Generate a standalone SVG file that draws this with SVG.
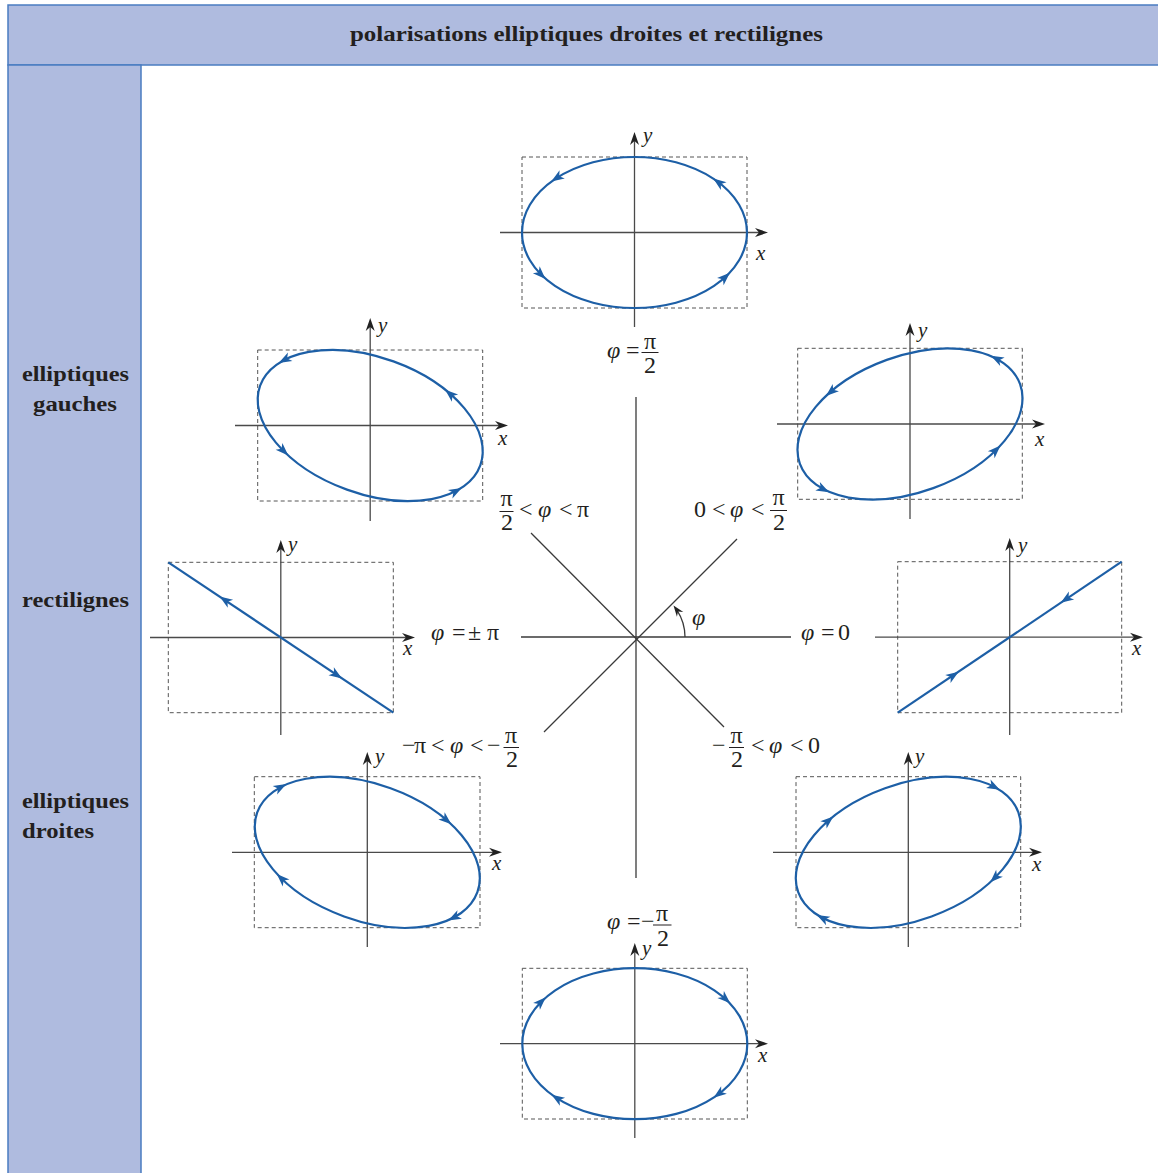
<svg xmlns="http://www.w3.org/2000/svg" xmlns:xlink="http://www.w3.org/1999/xlink" width="1158" height="1173" viewBox="0 0 1158 1173">
<style>
.band{fill:#afbbdf;stroke:#4a7cc1;stroke-width:1.5}
.hd{font-family:"Liberation Serif","Times New Roman",serif;font-weight:bold;font-size:21.5px;fill:#231f20}
.m{font-family:"Liberation Serif","Times New Roman",serif;font-size:24px;fill:#231f20}
.i{font-style:italic}
.ax{font-family:"Liberation Serif","Times New Roman",serif;font-style:italic;font-size:21px;fill:#231f20}
.box{fill:none;stroke:#555;stroke-width:1;stroke-dasharray:4 3}
.axis{stroke:#4a4a4a;stroke-width:1.3;fill:none}
.ell{fill:none;stroke:#1d5fa6;stroke-width:2.2}
.cl{stroke:#3a3a3a;stroke-width:1.3;fill:none}
.fr{stroke:#231f20;stroke-width:1}
</style>
<defs>
<path id="ah" d="M6,0 L-7,-4.8 L-3.5,0 L-7,4.8 Z" fill="#1d5fa6"/>
<path id="axh" d="M0,0 L-13,-4.5 L-9,0 L-13,4.5 Z" fill="#222"/>
<path id="sah" d="M0,0 L-11,-4 L-7.5,0 L-11,4 Z" fill="#222"/>
</defs>
<rect width="1158" height="1173" fill="#ffffff"/>

<g id="header">
<rect class="band" x="8" y="5" width="1160" height="60"/>
<text class="hd" x="586.5" y="41" text-anchor="middle" textLength="473" lengthAdjust="spacingAndGlyphs">polarisations elliptiques droites et rectilignes</text>
</g>
<g id="left-column">
<rect class="band" x="8" y="65" width="133" height="1120"/>
<text class="hd" x="22" y="381" textLength="107" lengthAdjust="spacingAndGlyphs">elliptiques</text>
<text class="hd" x="33" y="411" textLength="84" lengthAdjust="spacingAndGlyphs">gauches</text>
<text class="hd" x="22" y="607" textLength="107" lengthAdjust="spacingAndGlyphs">rectilignes</text>
<text class="hd" x="22" y="808" textLength="107" lengthAdjust="spacingAndGlyphs">elliptiques</text>
<text class="hd" x="22" y="838" textLength="72" lengthAdjust="spacingAndGlyphs">droites</text>
</g>

<g id="connectors">
<line class="cl" x1="636" y1="397" x2="636" y2="878"/>
<line class="cl" x1="521" y1="637" x2="791" y2="637"/>
<line class="cl" x1="531" y1="533" x2="724" y2="727"/>
<line class="cl" x1="737" y1="539" x2="544" y2="732"/>
<path class="cl" d="M685,637 A49,49 0 0 0 677.1,610.3"/>
<use xlink:href="#sah" href="#sah" transform="translate(673.5,605.5) rotate(233)"/>
</g>

<g id="center-labels">
<text class="m i" x="692" y="625">φ</text>
<!-- phi = ± pi -->
<text class="m i" x="431" y="640">φ</text>
<text class="m" x="452" y="640">=</text>
<text class="m" x="468" y="640">±</text>
<text class="m" x="487" y="640">π</text>
<!-- phi = 0 -->
<text class="m i" x="801" y="640">φ</text>
<text class="m" x="821" y="640">=</text>
<text class="m" x="838" y="640">0</text>
<!-- pi/2 < phi < pi -->
<text class="m" text-anchor="middle"><tspan x="506.5" y="506">π</tspan><tspan x="507" y="530">2</tspan></text>
<line class="fr" x1="499.5" y1="511.5" x2="513.5" y2="511.5"/>
<text class="m" x="519" y="517">&lt;</text>
<text class="m i" x="538" y="517">φ</text>
<text class="m" x="559" y="517">&lt;</text>
<text class="m" x="577" y="517">π</text>
<!-- 0 < phi < pi/2 -->
<text class="m" x="694" y="517">0</text>
<text class="m" x="712" y="517">&lt;</text>
<text class="m i" x="730" y="517">φ</text>
<text class="m" x="751" y="517">&lt;</text>
<text class="m" text-anchor="middle"><tspan x="778.5" y="505">π</tspan><tspan x="779" y="529.5">2</tspan></text>
<line class="fr" x1="770" y1="510.5" x2="787" y2="510.5"/>
<!-- -pi < phi < -pi/2 -->
<text class="m" x="402" y="753">−</text>
<text class="m" x="414" y="753">π</text>
<text class="m" x="431" y="753">&lt;</text>
<text class="m i" x="450" y="753">φ</text>
<text class="m" x="470" y="753">&lt;</text>
<text class="m" x="487" y="753">−</text>
<text class="m" text-anchor="middle"><tspan x="511" y="743">π</tspan><tspan x="512" y="767">2</tspan></text>
<line class="fr" x1="503.5" y1="747.5" x2="519" y2="747.5"/>
<!-- -pi/2 < phi < 0 -->
<text class="m" x="712" y="753">−</text>
<text class="m" text-anchor="middle"><tspan x="736.5" y="743">π</tspan><tspan x="737" y="767">2</tspan></text>
<line class="fr" x1="729" y1="747.5" x2="744" y2="747.5"/>
<text class="m" x="751" y="753">&lt;</text>
<text class="m i" x="769" y="753">φ</text>
<text class="m" x="790" y="753">&lt;</text>
<text class="m" x="808" y="753">0</text>
<!-- phi = pi/2 -->
<text class="m i" x="607" y="358">φ</text>
<text class="m" x="626" y="358">=</text>
<text class="m" text-anchor="middle"><tspan x="650" y="349">π</tspan><tspan x="650" y="373">2</tspan></text>
<line class="fr" x1="641.5" y1="352.5" x2="658.5" y2="352.5"/>
<!-- phi = -pi/2 -->
<text class="m i" x="607" y="929">φ</text>
<text class="m" x="627" y="929">=</text>
<text class="m" x="641" y="929">−</text>
<text class="m" text-anchor="middle"><tspan x="662" y="921">π</tspan><tspan x="663" y="946">2</tspan></text>
<line class="fr" x1="653" y1="925" x2="671.5" y2="925"/>
</g>

<!-- top: phi = pi/2 -->
<g id="plot-top">
<rect class="box" x="522" y="157" width="225" height="151"/>
<line class="axis" x1="500" y1="232.5" x2="760" y2="232.5"/>
<use xlink:href="#axh" href="#axh" transform="translate(768,232.5)"/>
<line class="axis" x1="634.5" y1="327" x2="634.5" y2="140"/>
<use xlink:href="#axh" href="#axh" transform="translate(634.5,132) rotate(-90)"/>
<text class="ax" x="643" y="142">y</text>
<text class="ax" x="756" y="260">x</text>
<ellipse class="ell" cx="634.5" cy="232.5" rx="112.5" ry="75.5"/>
<use xlink:href="#ah" href="#ah" transform="translate(718.1,182.0) rotate(216.7)"/>
<use xlink:href="#ah" href="#ah" transform="translate(556.3,178.2) rotate(147.1)"/>
<use xlink:href="#ah" href="#ah" transform="translate(541.2,274.7) rotate(44.9)"/>
<use xlink:href="#ah" href="#ah" transform="translate(725.5,276.9) rotate(-42.7)"/>
</g>

<!-- upper-left: pi/2 < phi < pi -->
<g id="plot-upper-left">
<rect class="box" x="257.7" y="350" width="225" height="151"/>
<line class="axis" x1="235" y1="425.5" x2="500" y2="425.5"/>
<use xlink:href="#axh" href="#axh" transform="translate(508,425.5)"/>
<line class="axis" x1="370.2" y1="521" x2="370.2" y2="326"/>
<use xlink:href="#axh" href="#axh" transform="translate(370.2,318) rotate(-90)"/>
<text class="ax" x="378" y="332">y</text>
<text class="ax" x="498" y="445">x</text>
<ellipse class="ell" cx="0" cy="0" rx="117.1" ry="68.2" transform="translate(370.2,425.5) rotate(19.93)"/>
<use xlink:href="#ah" href="#ah" transform="translate(284.0,360.1) rotate(152.4)"/>
<use xlink:href="#ah" href="#ah" transform="translate(449.7,393.6) rotate(-139.3)"/>
<use xlink:href="#ah" href="#ah" transform="translate(456.4,490.9) rotate(-27.6)"/>
<use xlink:href="#ah" href="#ah" transform="translate(284.0,451.3) rotate(44.4)"/>
</g>

<!-- upper-right: 0 < phi < pi/2 -->
<g id="plot-upper-right">
<rect class="box" x="797.7" y="348.3" width="224.6" height="151"/>
<line class="axis" x1="777" y1="424" x2="1037" y2="424"/>
<use xlink:href="#axh" href="#axh" transform="translate(1045,424)"/>
<line class="axis" x1="910" y1="519" x2="910" y2="331"/>
<use xlink:href="#axh" href="#axh" transform="translate(910,323) rotate(-90)"/>
<text class="ax" x="918" y="337">y</text>
<text class="ax" x="1035" y="446">x</text>
<ellipse class="ell" cx="0" cy="0" rx="117.1" ry="68.2" transform="translate(910,424) rotate(-19.93)"/>
<use xlink:href="#ah" href="#ah" transform="translate(996.2,358.6) rotate(207.6)"/>
<use xlink:href="#ah" href="#ah" transform="translate(830.5,392.1) rotate(139.3)"/>
<use xlink:href="#ah" href="#ah" transform="translate(823.8,489.4) rotate(27.6)"/>
<use xlink:href="#ah" href="#ah" transform="translate(996.2,449.8) rotate(-44.4)"/>
</g>

<!-- left: phi = ± pi -->
<g id="plot-left">
<rect class="box" x="168.3" y="562.3" width="225" height="150.4"/>
<line class="axis" x1="150" y1="637.5" x2="407" y2="637.5"/>
<use xlink:href="#axh" href="#axh" transform="translate(415,637.5)"/>
<line class="axis" x1="280.8" y1="735" x2="280.8" y2="548"/>
<use xlink:href="#axh" href="#axh" transform="translate(280.8,540) rotate(-90)"/>
<text class="ax" x="288" y="551">y</text>
<text class="ax" x="403" y="655">x</text>
<line class="ell" x1="168.3" y1="562.3" x2="393.3" y2="712.7"/>
<use xlink:href="#ah" href="#ah" transform="translate(224.6,599.9) rotate(213.7)"/>
<use xlink:href="#ah" href="#ah" transform="translate(337,675.1) rotate(33.7)"/>
</g>

<!-- right: phi = 0 -->
<g id="plot-right">
<rect class="box" x="897.7" y="561.7" width="224" height="151"/>
<line class="axis" x1="875" y1="637.2" x2="1135" y2="637.2"/>
<use xlink:href="#axh" href="#axh" transform="translate(1143,637.2)"/>
<line class="axis" x1="1009.7" y1="735" x2="1009.7" y2="546"/>
<use xlink:href="#axh" href="#axh" transform="translate(1009.7,538) rotate(-90)"/>
<text class="ax" x="1018" y="552">y</text>
<text class="ax" x="1132" y="655">x</text>
<line class="ell" x1="897.7" y1="712.7" x2="1121.7" y2="561.7"/>
<use xlink:href="#ah" href="#ah" transform="translate(953.7,675) rotate(-33.7)"/>
<use xlink:href="#ah" href="#ah" transform="translate(1065.7,599.5) rotate(146.3)"/>
</g>

<!-- lower-left: -pi < phi < -pi/2 -->
<g id="plot-lower-left">
<rect class="box" x="254.3" y="776.7" width="225.7" height="151"/>
<line class="axis" x1="232" y1="852.3" x2="494" y2="852.3"/>
<use xlink:href="#axh" href="#axh" transform="translate(502,852.3)"/>
<line class="axis" x1="367.3" y1="947" x2="367.3" y2="760"/>
<use xlink:href="#axh" href="#axh" transform="translate(367.3,752) rotate(-90)"/>
<text class="ax" x="375" y="763">y</text>
<text class="ax" x="492" y="870">x</text>
<ellipse class="ell" cx="0" cy="0" rx="117.1" ry="68.2" transform="translate(367.3,852.3) rotate(19.93)"/>
<use xlink:href="#ah" href="#ah" transform="translate(281.1,786.9) rotate(-27.6)"/>
<use xlink:href="#ah" href="#ah" transform="translate(446.8,820.4) rotate(40.7)"/>
<use xlink:href="#ah" href="#ah" transform="translate(453.5,917.7) rotate(152.4)"/>
<use xlink:href="#ah" href="#ah" transform="translate(281.1,878.1) rotate(224.4)"/>
</g>

<!-- lower-right: -pi/2 < phi < 0 -->
<g id="plot-lower-right">
<rect class="box" x="796" y="776.7" width="224.7" height="151"/>
<line class="axis" x1="773" y1="852.3" x2="1034" y2="852.3"/>
<use xlink:href="#axh" href="#axh" transform="translate(1042,852.3)"/>
<line class="axis" x1="908.3" y1="947" x2="908.3" y2="760"/>
<use xlink:href="#axh" href="#axh" transform="translate(908.3,752) rotate(-90)"/>
<text class="ax" x="915" y="763">y</text>
<text class="ax" x="1032" y="871">x</text>
<ellipse class="ell" cx="0" cy="0" rx="117.1" ry="68.2" transform="translate(908.3,852.3) rotate(-19.93)"/>
<use xlink:href="#ah" href="#ah" transform="translate(994.5,786.9) rotate(27.6)"/>
<use xlink:href="#ah" href="#ah" transform="translate(828.8,820.4) rotate(-40.7)"/>
<use xlink:href="#ah" href="#ah" transform="translate(822.1,917.7) rotate(207.6)"/>
<use xlink:href="#ah" href="#ah" transform="translate(994.5,878.1) rotate(135.6)"/>
</g>

<!-- bottom: phi = -pi/2 -->
<g id="plot-bottom">
<rect class="box" x="522.3" y="968.3" width="225" height="150.7"/>
<line class="axis" x1="500" y1="1043.7" x2="760" y2="1043.7"/>
<use xlink:href="#axh" href="#axh" transform="translate(768,1043.7)"/>
<line class="axis" x1="634.8" y1="1138" x2="634.8" y2="951"/>
<use xlink:href="#axh" href="#axh" transform="translate(634.8,943) rotate(-90)"/>
<text class="ax" x="642" y="955">y</text>
<text class="ax" x="758" y="1062">x</text>
<ellipse class="ell" cx="634.8" cy="1043.7" rx="112.5" ry="75.5"/>
<use xlink:href="#ah" href="#ah" transform="translate(718.4,1094.2) rotate(143.3)"/>
<use xlink:href="#ah" href="#ah" transform="translate(556.6,1098.0) rotate(-147.1)"/>
<use xlink:href="#ah" href="#ah" transform="translate(541.5,1001.5) rotate(-44.9)"/>
<use xlink:href="#ah" href="#ah" transform="translate(725.8,999.3) rotate(42.7)"/>
</g>
</svg>
